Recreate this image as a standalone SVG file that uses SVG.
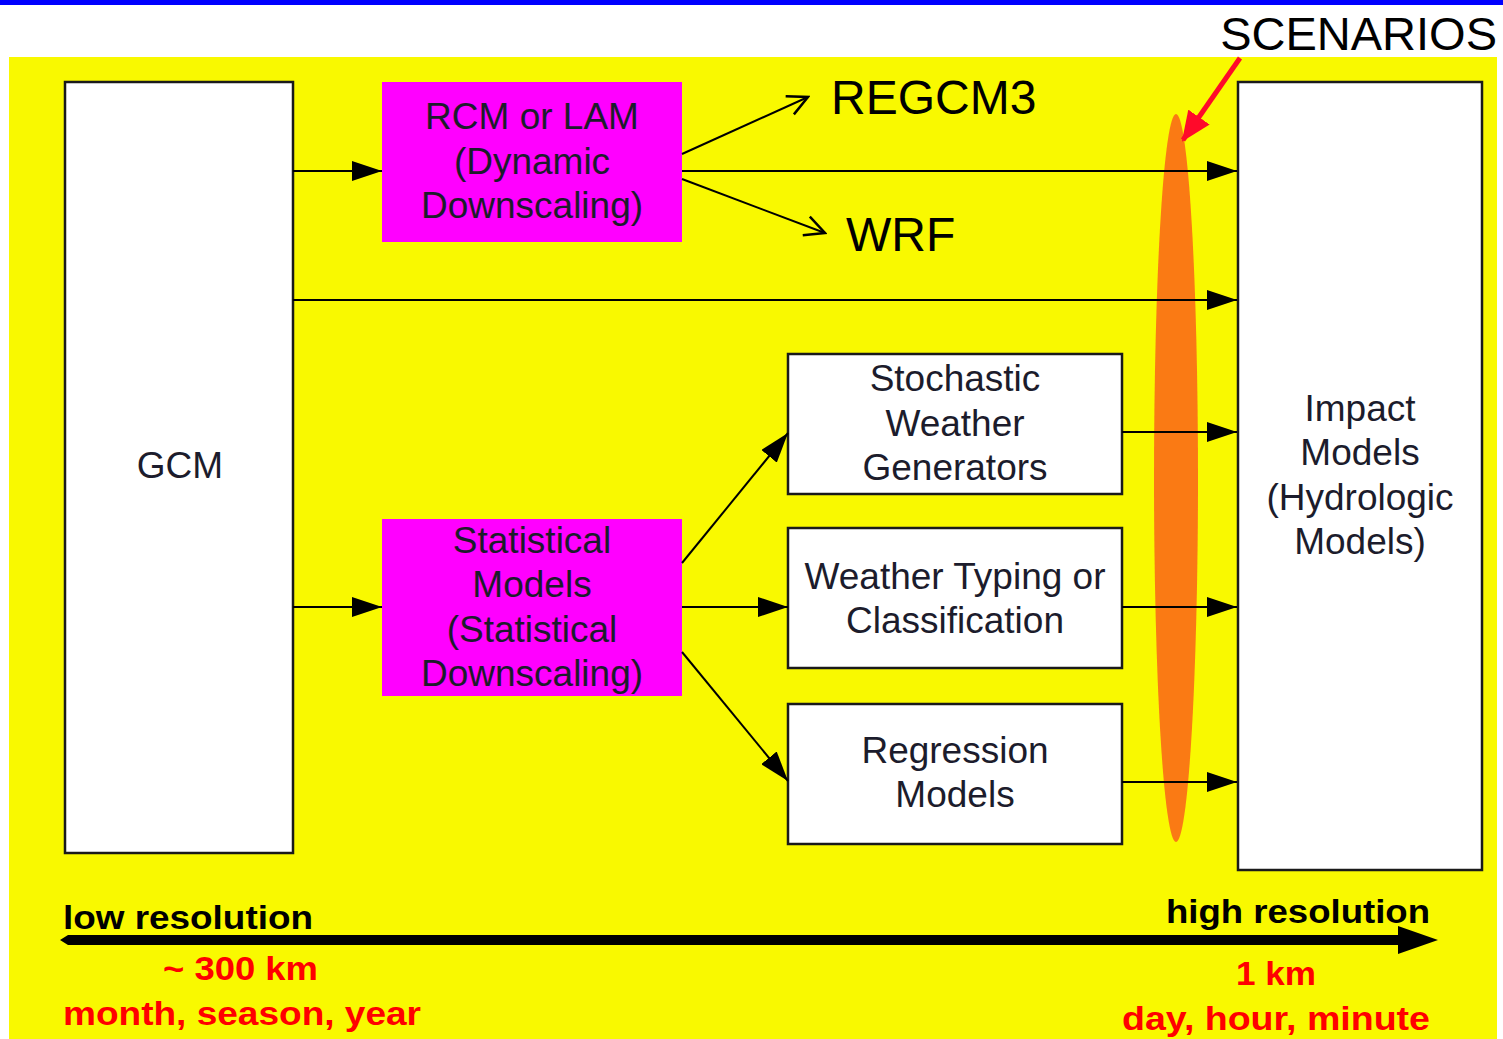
<svg xmlns="http://www.w3.org/2000/svg" width="1503" height="1039" viewBox="0 0 1503 1039">
<defs>
<style>
.box{fill:#ffffff;stroke:#1a1a1a;stroke-width:2.5}
.mag{fill:#ff00ff;stroke:none}
.t{font-family:"Liberation Sans",Arial,sans-serif;font-size:37px;fill:#1c1c2c;text-anchor:middle}
.big{font-family:"Liberation Sans",Arial,sans-serif;font-size:48px;fill:#000}
.bold{font-family:"Liberation Sans",Arial,sans-serif;font-weight:bold;font-size:34px}
.conn{stroke:#000;stroke-width:2;fill:none}
</style>
<marker id="fa" viewBox="0 0 30 20" refX="30" refY="10" markerWidth="30" markerHeight="20" markerUnits="userSpaceOnUse" orient="auto">
<path d="M0,0 L30,10 L0,20 Z" fill="#000"/>
</marker>
<marker id="oa" viewBox="0 0 24 24" refX="22" refY="12" markerWidth="24" markerHeight="24" markerUnits="userSpaceOnUse" orient="auto">
<path d="M2,2 L22,12 L2,22" fill="none" stroke="#000" stroke-width="2.5"/>
</marker>
<marker id="ra" viewBox="0 0 30 26" refX="28" refY="13" markerWidth="30" markerHeight="26" markerUnits="userSpaceOnUse" orient="auto">
<path d="M0,0 L30,13 L0,26 Z" fill="#ff0a2a"/>
</marker>
</defs>
<rect x="0" y="0" width="1503" height="1039" fill="#ffffff"/>
<rect x="0" y="0" width="1503" height="5" fill="#0000ff"/>
<rect x="9" y="57" width="1488" height="982" fill="#f9f900"/>
<text x="1497" y="50" font-family="Liberation Sans, Arial, sans-serif" font-size="47" text-anchor="end" fill="#000">SCENARIOS</text>

<ellipse id="scenario-band" cx="1176" cy="478" rx="22" ry="364" fill="#fa7a14"/>

<g id="gcm"><rect class="box" x="65" y="82" width="228" height="771"/><text class="t" x="180" y="478">GCM</text></g>
<g id="rcm"><rect class="mag" x="382" y="82" width="300" height="160"/>
<text class="t" x="532" y="129">RCM or LAM</text><text class="t" x="532" y="174">(Dynamic</text><text class="t" x="532" y="218">Downscaling)</text></g>
<g id="statistical"><rect class="mag" x="382" y="519" width="300" height="177"/>
<text class="t" x="532" y="553">Statistical</text><text class="t" x="532" y="597">Models</text><text class="t" x="532" y="642">(Statistical</text><text class="t" x="532" y="686">Downscaling)</text></g>
<g id="stochastic"><rect class="box" x="788" y="354" width="334" height="140"/>
<text class="t" x="955" y="391">Stochastic</text><text class="t" x="955" y="436">Weather</text><text class="t" x="955" y="480">Generators</text></g>
<g id="weather-typing"><rect class="box" x="788" y="528" width="334" height="140"/>
<text class="t" x="955" y="589">Weather Typing or</text><text class="t" x="955" y="633">Classification</text></g>
<g id="regression"><rect class="box" x="788" y="704" width="334" height="140"/>
<text class="t" x="955" y="763">Regression</text><text class="t" x="955" y="807">Models</text></g>
<g id="impact"><rect class="box" x="1238" y="82" width="244" height="788"/>
<text class="t" x="1360" y="421">Impact</text><text class="t" x="1360" y="465">Models</text><text class="t" x="1360" y="510">(Hydrologic</text><text class="t" x="1360" y="554">Models)</text></g>
<g id="regcm3"><text class="big" x="831" y="114">REGCM3</text></g>
<g id="wrf"><text class="big" x="846" y="251">WRF</text></g>

<g id="connectors">
<line class="conn" x1="293" y1="171" x2="382" y2="171" marker-end="url(#fa)"/>
<line class="conn" x1="682" y1="171" x2="1237" y2="171" marker-end="url(#fa)"/>
<line class="conn" x1="293" y1="300" x2="1237" y2="300" marker-end="url(#fa)"/>
<line class="conn" x1="682" y1="154" x2="808" y2="97" marker-end="url(#oa)" stroke-width="2.5"/>
<line class="conn" x1="682" y1="179" x2="825" y2="233" marker-end="url(#oa)" stroke-width="2.5"/>
<line class="conn" x1="293" y1="607" x2="382" y2="607" marker-end="url(#fa)"/>
<line class="conn" x1="682" y1="563" x2="788" y2="433" marker-end="url(#fa)"/>
<line class="conn" x1="682" y1="607" x2="788" y2="607" marker-end="url(#fa)"/>
<line class="conn" x1="682" y1="652" x2="788" y2="781" marker-end="url(#fa)"/>
<line class="conn" x1="1122" y1="432" x2="1237" y2="432" marker-end="url(#fa)"/>
<line class="conn" x1="1122" y1="607" x2="1237" y2="607" marker-end="url(#fa)"/>
<line class="conn" x1="1122" y1="782" x2="1237" y2="782" marker-end="url(#fa)"/>
<line x1="1240" y1="58" x2="1183" y2="140" stroke="#ff0a2a" stroke-width="5" marker-end="url(#ra)"/>
</g>

<g id="resolution-axis">
<path d="M60,940 L68,935 L1398,935 L1398,926 L1438,940 L1398,954 L1398,945 L68,945 Z" fill="#000"/>
<text class="bold" x="63" y="929" fill="#000" textLength="250" lengthAdjust="spacingAndGlyphs">low resolution</text>
<text class="bold" x="1166" y="923" fill="#000" textLength="264" lengthAdjust="spacingAndGlyphs">high resolution</text>
<text class="bold" x="163" y="980" fill="#ff0000" textLength="155" lengthAdjust="spacingAndGlyphs">~ 300 km</text>
<text class="bold" x="63" y="1025" fill="#ff0000" textLength="358" lengthAdjust="spacingAndGlyphs">month, season, year</text>
<text class="bold" x="1236" y="985" fill="#ff0000" textLength="80" lengthAdjust="spacingAndGlyphs">1 km</text>
<text class="bold" x="1122" y="1030" fill="#ff0000" textLength="308" lengthAdjust="spacingAndGlyphs">day, hour, minute</text>
</g>
</svg>
